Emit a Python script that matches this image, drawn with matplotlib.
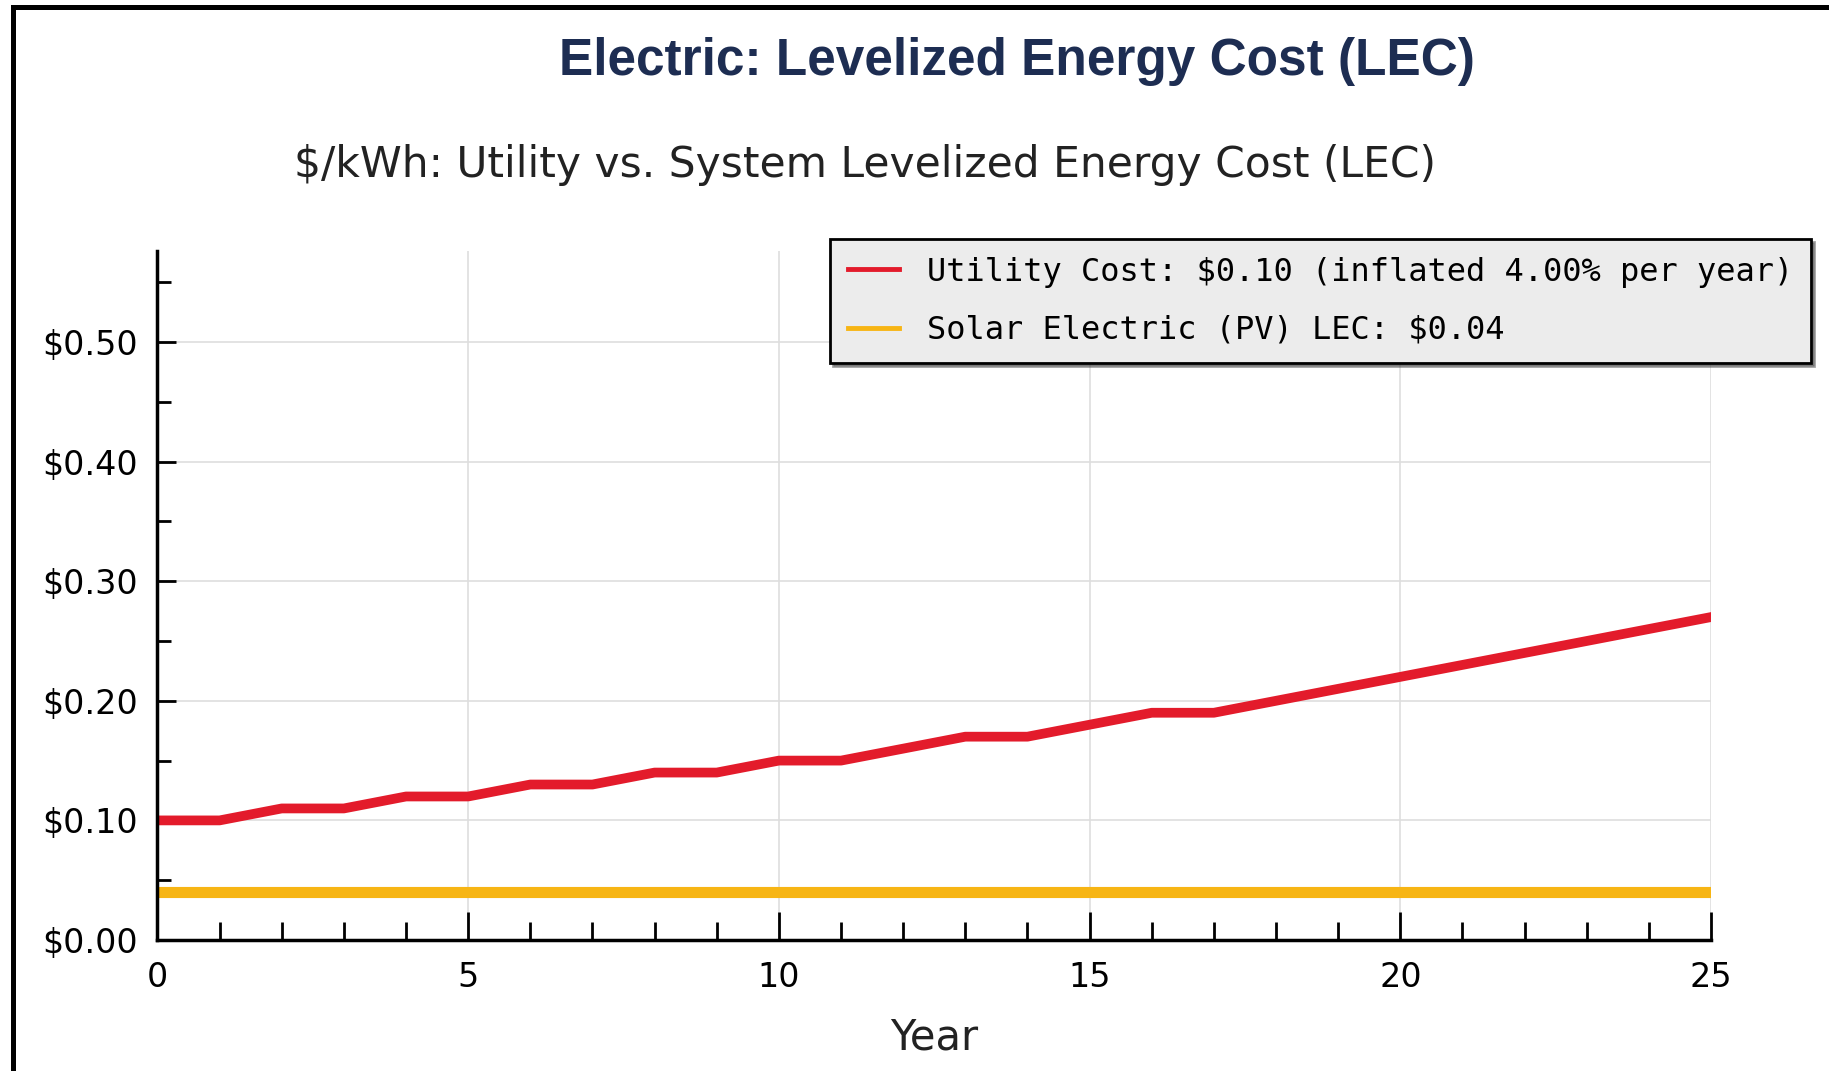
import matplotlib
matplotlib.use("Agg")
import matplotlib.pyplot as plt
from matplotlib.patches import Rectangle
from matplotlib.ticker import MultipleLocator, FuncFormatter

# data
years = list(range(0, 26))
utility_cost = [0.10, 0.10, 0.11, 0.11, 0.12, 0.12, 0.13, 0.13, 0.14, 0.14,
                0.15, 0.15, 0.16, 0.17, 0.17, 0.18, 0.19, 0.19, 0.20, 0.21,
                0.22, 0.23, 0.24, 0.25, 0.26, 0.27]
solar_lec = [0.04] * 26
labels = ['Utility Cost: $0.10 (inflated 4.00% per year)',
          'Solar Electric (PV) LEC: $0.04']

fig = plt.figure(figsize=(18.29, 10.71), dpi=100)
ax = fig.add_axes([0.0861, 0.1223, 0.8494, 0.6433])

l1, = ax.plot(years, utility_cost, color='#e31b2b', lw=7, solid_joinstyle='round')
l2, = ax.plot(years, solar_lec, color='#f7b514', lw=8)

ax.set_xlim(0, 25)
ax.set_ylim(0, 0.576)

ax.xaxis.set_major_locator(MultipleLocator(5))
ax.xaxis.set_minor_locator(MultipleLocator(1))
ax.yaxis.set_major_locator(MultipleLocator(0.1))
ax.yaxis.set_minor_locator(MultipleLocator(0.05))
ax.yaxis.set_major_formatter(FuncFormatter(lambda v, p: '${:.2f}'.format(v)))

ax.tick_params(axis='both', which='both', direction='in', width=2, color='black')
ax.tick_params(axis='x', which='major', length=20, pad=15, labelsize=24)
ax.tick_params(axis='x', which='minor', length=13)
ax.tick_params(axis='y', which='major', length=14, pad=14, labelsize=24)
ax.tick_params(axis='y', which='minor', length=10)

for s in ['top', 'right']:
    ax.spines[s].set_visible(False)
ax.spines['left'].set_linewidth(2.5)
ax.spines['bottom'].set_linewidth(2.5)

ax.grid(True, which='major', color='#dedede', lw=1.2)
ax.set_axisbelow(True)

ax.set_xlabel('Year', fontsize=30, color='#222222', labelpad=16)

fig.text(0.556, 0.943, 'Electric: Levelized Energy Cost (LEC)', ha='center', va='center',
         fontsize=37, fontweight='bold', family='Liberation Sans', color='#1d2d52')
fig.text(0.473, 0.846, '$/kWh: Utility vs. System Levelized Energy Cost (LEC)',
         ha='center', va='center', fontsize=30.5, color='#222222')

leg = ax.legend([l1, l2], labels, loc='upper left',
                bbox_to_anchor=(830 / 1829, 1 - 239 / 1071), bbox_transform=fig.transFigure,
                borderaxespad=0, prop={'family': 'DejaVu Sans Mono', 'size': 23},
                fancybox=False, shadow=True, facecolor='#ececec', edgecolor='black',
                framealpha=1, handlelength=1.6, handletextpad=0.9, labelspacing=0.85,
                borderpad=0.55)
leg.get_frame().set_linewidth(2)
for h in leg.get_lines():
    h.set_linewidth(3.5)

# outer frame (top and left edges visible)
fig.add_artist(Rectangle((12.5 / 1829, -0.1), 1.2, 1.1 - 7.5 / 1071, transform=fig.transFigure,
                         fill=False, edgecolor='black', lw=3.6))

fig.savefig('out.png', dpi=100)
